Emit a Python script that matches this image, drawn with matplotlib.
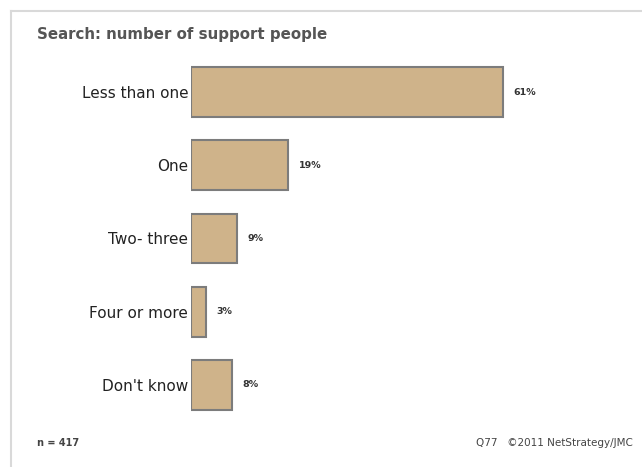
import matplotlib.pyplot as plt
from matplotlib.lines import Line2D

# data
categories = ["Less than one", "One", "Two- three", "Four or more", "Don't know"]
percents = [61, 19, 9, 3, 8]
n_resp = 417

W, H = 642, 467
fig = plt.figure(figsize=(W / 100, H / 100), dpi=100)
fig.patch.set_facecolor("white")

# light panel border (left + top)
fig.add_artist(Line2D([11 / W, 11 / W], [0, 1 - 11 / H], color="#d9d9d9", lw=1.5))
fig.add_artist(Line2D([11 / W, 1], [1 - 11 / H, 1 - 11 / H], color="#d9d9d9", lw=1.5))

# axes placed so bars start at x=191px, spacing ~73px
ax_left, ax_right = 191, 600
ax_top, ax_bot = 55.4, 421.6
ax = fig.add_axes([ax_left / W, (H - ax_bot) / H, (ax_right - ax_left) / W, (ax_bot - ax_top) / H])
px_per_pct = 5.12
ax.set_xlim(0, (ax_right - ax_left) / px_per_pct)
ax.set_ylim(len(categories) - 0.5, -0.5)

ypos = list(range(len(categories)))
ax.barh(ypos, percents, height=0.68, color="#cfb38a", edgecolor="#7c7c7c", linewidth=1.5)

for y, v in zip(ypos, percents):
    ax.annotate(f"{v}%", (v, y), xytext=(7.5, 0), textcoords="offset points",
                va="center", ha="left", fontsize=6.8, fontweight="bold", color="#333333")

ax.set_yticks(ypos)
ax.set_yticklabels(categories, fontsize=11, color="#222222")
ax.tick_params(axis="y", length=0, pad=2)
ax.set_xticks([])
for s in ax.spines.values():
    s.set_visible(False)

fig.text(37 / W, 1 - 35 / H, "Search: number of support people", fontsize=10.8,
         fontweight="bold", color="#555555", va="center", ha="left")
fig.text(37 / W, 1 - 443 / H, f"n = {n_resp}", fontsize=7, fontweight="bold",
         color="#444444", va="center", ha="left")
fig.text(633 / W, 1 - 443 / H, "Q77   \u00a92011 NetStrategy/JMC", fontsize=7.5,
         color="#444444", va="center", ha="right")

fig.savefig("out.png", dpi=100)
